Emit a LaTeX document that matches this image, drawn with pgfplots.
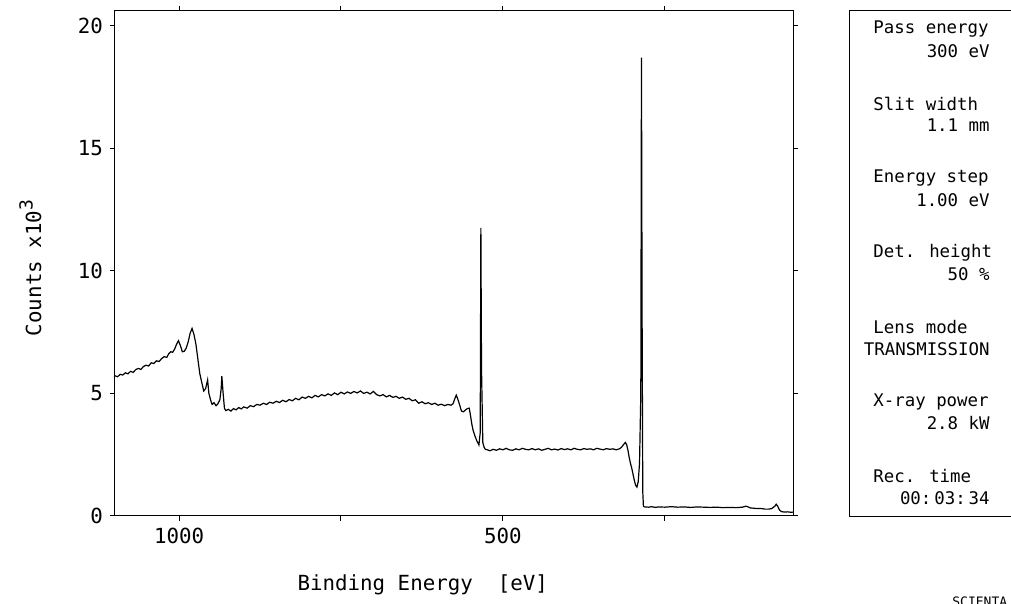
\documentclass[border=0pt]{standalone}
\usepackage{fontspec}
\setmainfont{DejaVu Sans Mono}
\usepackage{pgfplots}
\usepackage{pgfplotstable}
\pgfplotsset{compat=1.18}

% survey spectrum, binding energy (eV) vs counts (x10^3)
\pgfplotstableread{
E c
1099 5.72
1095 5.68
1091 5.78
1087 5.75
1083 5.84
1079 5.80
1075 5.90
1071 5.86
1067 5.97
1063 6.02
1059 5.98
1055 6.10
1051 6.15
1047 6.12
1043 6.25
1039 6.22
1035 6.33
1031 6.30
1027 6.42
1023 6.50
1019 6.47
1016 6.62
1013 6.70
1010 6.68
1007 6.80
1004 7.00
1001 7.15
998 6.95
995 6.70
992 6.72
989 6.85
986 7.10
983 7.45
980 7.65
977 7.40
974 7.00
971 6.40
968 5.80
965 5.45
962 5.10
959 5.20
956 5.55
954 5.00
951 4.70
949 4.55
946 4.62
943 4.50
940 4.58
937 4.75
935 5.20
934 5.70
932 5.00
930 4.40
928 4.30
924 4.35
920 4.28
916 4.38
912 4.33
908 4.42
904 4.37
900 4.45
895 4.40
890 4.50
885 4.46
880 4.55
875 4.52
870 4.60
865 4.55
860 4.64
855 4.60
850 4.68
845 4.63
840 4.72
835 4.66
830 4.75
825 4.70
820 4.80
815 4.74
810 4.85
805 4.80
800 4.88
795 4.82
790 4.92
785 4.86
780 4.95
775 4.90
770 4.98
765 4.92
760 5.02
755 4.95
750 5.05
745 4.98
740 5.06
735 5.00
730 5.08
725 5.02
720 5.10
715 5.00
710 5.05
705 4.98
700 5.08
695 4.95
690 4.90
685 4.95
680 4.86
675 4.92
670 4.84
665 4.88
660 4.80
655 4.85
650 4.76
645 4.80
640 4.70
635 4.74
630 4.60
625 4.66
620 4.58
615 4.62
610 4.55
605 4.60
600 4.52
595 4.56
590 4.50
585 4.55
580 4.52
577 4.58
574 4.80
572 4.93
570 4.80
567 4.55
564 4.28
561 4.25
558 4.32
555 4.38
552 4.40
550 4.10
548 3.75
546 3.50
543 3.25
540 3.05
538 2.95
537 2.90
535 3.40
534 11.75
533 6.00
531 3.00
529 2.80
527 2.72
524 2.70
520 2.66
515 2.72
510 2.68
505 2.74
500 2.70
495 2.76
490 2.70
485 2.68
480 2.74
475 2.70
470 2.76
465 2.72
460 2.70
455 2.75
450 2.70
445 2.74
440 2.68
435 2.72
430 2.76
425 2.70
420 2.73
415 2.69
410 2.75
405 2.71
400 2.74
395 2.70
390 2.76
385 2.72
380 2.70
375 2.75
370 2.72
365 2.74
360 2.70
355 2.76
350 2.73
345 2.70
340 2.75
335 2.72
330 2.74
325 2.70
320 2.74
317 2.80
314 2.90
311 3.00
309 2.92
307 2.70
305 2.40
303 2.15
301 1.95
299 1.70
297 1.45
295 1.25
293 1.18
291 1.40
289 2.15
287 5.00
286 18.70
285 8.00
284 1.00
283 0.40
281 0.37
275 0.36
270 0.38
265 0.35
260 0.37
250 0.36
240 0.38
230 0.36
220 0.37
210 0.35
200 0.37
190 0.36
180 0.35
170 0.36
160 0.34
150 0.35
140 0.34
130 0.36
125 0.40
122 0.38
118 0.33
110 0.31
100 0.30
95 0.28
90 0.28
85 0.30
80 0.40
78 0.48
76 0.42
73 0.25
70 0.18
65 0.16
60 0.17
55 0.15
52 0.16
}\spectrum

\begin{document}
\begin{tikzpicture}
  \path[use as bounding box] (0,0) rectangle (505.5pt,302pt);
  \begin{axis}[
    at={(57.5pt,44pt)}, anchor=south west,
    scale only axis,
    width=339pt, height=252.5pt,
    x dir=reverse,
    xmin=52, xmax=1099,
    ymin=0, ymax=20.6,
    axis line style={line width=0.5pt},
    tick align=outside,
    major tick length=2.5pt,
    tick style={black, line width=0.5pt},
    xtick={1000,750,500,250},
    xticklabels={1000,,500,},
    ytick={0,5,10,15,20},
    /pgf/number format/assume math mode=true,
    ticklabel style={font=\fontsize{10.4}{12}\selectfont},
    xlabel={Binding Energy\ \ [eV]},
    ylabel={Counts x10\raisebox{0.75ex}{\fontsize{9}{10}\selectfont 3}},
    label style={font=\fontsize{10.4}{12}\selectfont},
    xlabel style={at={(axis description cs:0.454,-0.137)}, anchor=center},
    ylabel style={at={(axis description cs:-0.125,0.491)}, anchor=center, rotate=0},
  ]
    \addplot[black, line width=0.6pt, mark=none] table[x=E, y=c] {\spectrum};
  \end{axis}
  \begin{scope}[x=0.5pt, y=-0.5pt, shift={(0,302pt)}]
    \draw[line width=0.5pt] (1030,11) -- (849,11) -- (849,517) -- (1030,517);
    \begin{scope}[font=\fontsize{8.7}{10}\selectfont]
      \foreach \i/\lab/\val in {0/Pass energy/300 eV, 1/Slit width/1.1 mm,
          2/Energy step/1.00 eV, 3/Det. height/50 \%, 5/X-ray power/2.8 kW,
          6/Rec. time/00:\,03:\,34} {
        \node[anchor=west, inner sep=0pt] at (873, 29+74.5*\i) {\lab};
        \node[anchor=east, inner sep=0pt] at (990, 51+74.5*\i) {\val};
      }
      \node[anchor=west, inner sep=0pt] at (873, 327) {Lens mode};
      \node[anchor=east, inner sep=0pt] at (990, 349) {TRANSMISSION};
    \end{scope}
    \node[anchor=west, inner sep=0pt, font=\fontsize{6.5}{7}\selectfont] at (952, 602) {SCIENTA};
  \end{scope}
\end{tikzpicture}
\end{document}
